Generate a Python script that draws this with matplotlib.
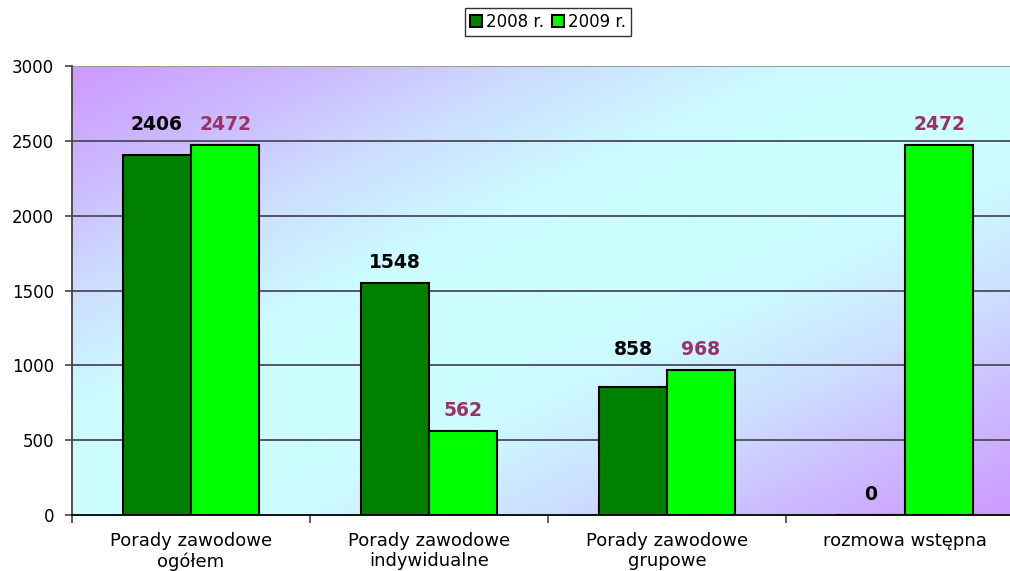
import numpy as np
import matplotlib
matplotlib.use("Agg")
import matplotlib.pyplot as plt
from matplotlib.colors import LinearSegmentedColormap

categories = ["Porady zawodowe\nogółem", "Porady zawodowe\nindywidualne",
              "Porady zawodowe\ngrupowe", "rozmowa wstępna"]
v2008 = [2406, 1548, 858, 0]
v2009 = [2472, 562, 968, 2472]
series_names = ["2008 r.", "2009 r."]
yticks = [0, 500, 1000, 1500, 2000, 2500, 3000]

plt.rcParams['font.family'] = ['DejaVu Sans']

fig = plt.figure(figsize=(10.1, 5.71), dpi=100)
# plot area runs a bit past the right edge, like the cropped original
ax = fig.add_axes([72/1010, 56/571, 952/1010, 449/571])

# diagonal gradient background: purple corners, wide cyan band along the other diagonal
cmap = LinearSegmentedColormap.from_list(
    "bg", [(0.0, "#CCFFFF"), (0.22, "#CCFCFF"), (0.5, "#CCDDFF"),
           (0.72, "#CCBBFF"), (1.0, "#CC99FF")])
gx, gy = np.meshgrid(np.linspace(0, 1, 400), np.linspace(1, 0, 300))
t = np.abs(gx - gy)
ax.imshow(t, cmap=cmap, extent=[0, 1, 0, 1], transform=ax.transAxes,
          aspect='auto', zorder=0, vmin=0, vmax=1)

x = np.arange(len(categories))
w = 0.286
ax.bar(x - w/2, v2008, w, color="#008000", edgecolor="black", linewidth=1.5,
       label=series_names[0], zorder=3)
ax.bar(x + w/2, v2009, w, color="#00FF00", edgecolor="black", linewidth=1.5,
       label=series_names[1], zorder=3)

# value labels; a 2008 label is lifted to the 2009 one when the bars are close
for i in range(len(categories)):
    a, b = v2008[i], v2009[i]
    ya = b if 0 <= b - a < 150 else a
    ax.annotate(str(a), (x[i] - w/2, ya), xytext=(0, 11), textcoords="offset points",
                ha="center", va="baseline", fontsize=13.5, fontweight="bold",
                color="black", zorder=4)
    ax.annotate(str(b), (x[i] + w/2, b), xytext=(0, 11), textcoords="offset points",
                ha="center", va="baseline", fontsize=13.5, fontweight="bold",
                color="#993366", zorder=4)

ax.set_xlim(-0.5, len(categories) - 0.5)
ax.set_ylim(0, 3000)
ax.set_yticks(yticks)
ax.tick_params(axis='y', labelsize=12, length=5, width=1.2, color="#444444", pad=8)

ax.set_xticks(np.arange(len(categories) + 1) - 0.5)
ax.set_xticklabels([])
ax.set_xticks(x, minor=True)
ax.set_xticklabels(categories, minor=True, fontsize=13)
ax.tick_params(axis='x', which='major', length=6, width=1.2, color="#444444")
ax.tick_params(axis='x', which='minor', length=0, pad=12)

for yv in yticks[1:]:
    ax.axhline(yv, color="#555566" if yv < 3000 else "#999999", linewidth=1.4, zorder=1)

ax.spines['top'].set_visible(False)
ax.spines['right'].set_visible(False)
ax.spines['left'].set_color("#444444")
ax.spines['left'].set_linewidth(1.3)
ax.spines['bottom'].set_color("#111111")
ax.spines['bottom'].set_linewidth(1.4)

leg = ax.legend(loc="lower center", bbox_to_anchor=(0.5, 1.067), ncol=2, fontsize=12,
                frameon=True, fancybox=False, edgecolor="black", handlelength=0.7,
                handleheight=0.7, handletextpad=0.25, columnspacing=0.5,
                borderpad=0.3, borderaxespad=0)
leg.get_frame().set_linewidth(1.0)

fig.savefig("out.png", dpi=100)
